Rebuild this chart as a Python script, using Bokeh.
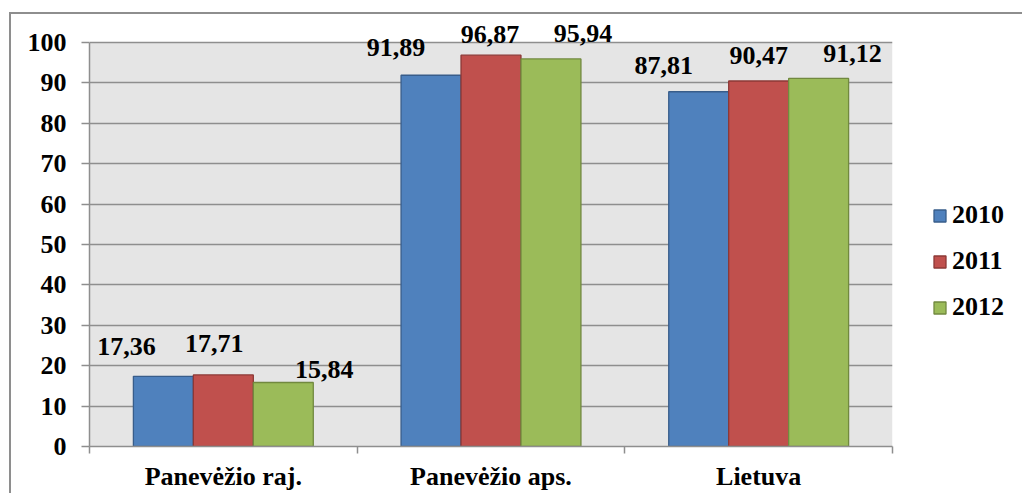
from bokeh.plotting import figure
from bokeh.models import (ColumnDataSource, Range1d, FixedTicker, Legend,
                          LegendItem, LabelSet)
from bokeh.core.properties import value
from bokeh.transform import dodge
from bokeh.embed import file_html
from bokeh.resources import INLINE

# ---- data ----
categories = ["Panevėžio raj.", "Panevėžio aps.", "Lietuva"]
years = ["2010", "2011", "2012"]
v2010 = [17.36, 91.89, 87.81]
v2011 = [17.71, 96.87, 90.47]
v2012 = [15.84, 95.94, 91.12]
y_ticks = list(range(0, 101, 10))

series = [v2010, v2011, v2012]

# ---- styles ----
fills = ["#4F81BD", "#C0504D", "#9BBB59"]
lines = ["#385D8A", "#8C3836", "#71893F"]
offsets = [-0.224, 0.0, 0.224]
bar_w = 0.224
# label nudges in screen px (x right, y up)
lab_dx = [[-37, -35, -35], [-9, -1, 0], [41, 32, 34]]
lab_dy = [[30, 28, 26], [31, 21, 26], [13, 25, 25]]
FONT = "Liberation Serif"
GREY = "#8E8E8E"
PLOT_BG = "#E5E5E5"

pos = [i + 1 for i in range(len(categories))]
y_max = y_ticks[-1]
axis_px = 404          # pixel height of the 0..100 span
extra_px = 24          # headroom above the plot area for labels
y_top = y_max * (axis_px + extra_px) / axis_px

p = figure(frame_width=803, frame_height=axis_px + extra_px,
           x_range=Range1d(0.5, len(categories) + 0.5), y_range=Range1d(0, y_top),
           output_backend="svg", toolbar_location=None,
           min_border_left=78, min_border_top=4, min_border_bottom=45,
           min_border_right=0,
           background_fill_color="white", border_fill_color="white",
           outline_line_color=None)
p.styles = {"margin-left": "9px", "margin-top": "12px",
            "border-left": "2px solid #8E8E8E", "border-top": "2px solid #8E8E8E"}

# grey plot area and grid lines (0..100 only)
p.hstrip(y0=[y_ticks[0]], y1=[y_max], fill_color=PLOT_BG, line_color=None)
p.hspan(y=y_ticks[1:], line_color=GREY, line_width=1.5)

renderers = []
for j, vals in enumerate(series):
    src = ColumnDataSource(dict(
        pos=pos, val=vals,
        lab=[f"{v:.2f}".replace(".", ",") for v in vals],
        dx=lab_dx[j], dy=lab_dy[j]))
    r = p.vbar(x=dodge("pos", offsets[j], range=p.x_range), top="val",
               width=bar_w, source=src, fill_color=fills[j],
               line_color=lines[j], line_width=1.3)
    renderers.append(r)
    ls = LabelSet(x=dodge("pos", offsets[j], range=p.x_range), y="val",
                  text="lab", x_offset="dx", y_offset="dy", source=src,
                  text_align="center", text_baseline="middle",
                  text_font=value(FONT), text_font_style="bold",
                  text_font_size="26px", text_color="black")
    p.add_layout(ls)

# y axis
yax = p.yaxis[0]
yax.ticker = FixedTicker(ticks=y_ticks)
yax.bounds = (y_ticks[0], y_max)
yax.axis_line_color = GREY
yax.axis_line_width = 1.5
yax.major_tick_line_color = GREY
yax.major_tick_line_width = 1.5
yax.major_tick_in = 0
yax.major_tick_out = 8
yax.minor_tick_line_color = None
yax.major_label_text_font = FONT
yax.major_label_text_font_size = "26px"
yax.major_label_text_font_style = "bold"
yax.major_label_text_color = "black"
yax.major_label_standoff = 15

# x axis
xax = p.xaxis[0]
xax.ticker = FixedTicker(ticks=pos, minor_ticks=[x - 0.5 for x in pos] + [pos[-1] + 0.5])
xax.major_label_overrides = {pos[i]: categories[i] for i in range(len(categories))}
xax.axis_line_color = GREY
xax.axis_line_width = 1.5
xax.major_tick_line_color = None
xax.major_tick_in = 0
xax.major_tick_out = 0
xax.minor_tick_line_color = GREY
xax.minor_tick_line_width = 1.5
xax.minor_tick_in = 0
xax.minor_tick_out = 7
xax.major_label_text_font = FONT
xax.major_label_text_font_size = "26px"
xax.major_label_text_font_style = "bold"
xax.major_label_text_color = "black"
xax.major_label_standoff = 8

p.xgrid.grid_line_color = None
p.ygrid.grid_line_color = None

legend = Legend(items=[LegendItem(label=years[j], renderers=[renderers[j]]) for j in range(3)],
                location=(40, 124), margin=18, padding=10,
                glyph_width=15, glyph_height=15, label_height=29, spacing=16,
                label_standoff=5, border_line_color=None, background_fill_alpha=0,
                label_text_font=FONT, label_text_font_style="bold",
                label_text_font_size="26px", label_text_color="black")
p.add_layout(legend, "right")

open("out.html", "w").write(file_html(p, INLINE))
